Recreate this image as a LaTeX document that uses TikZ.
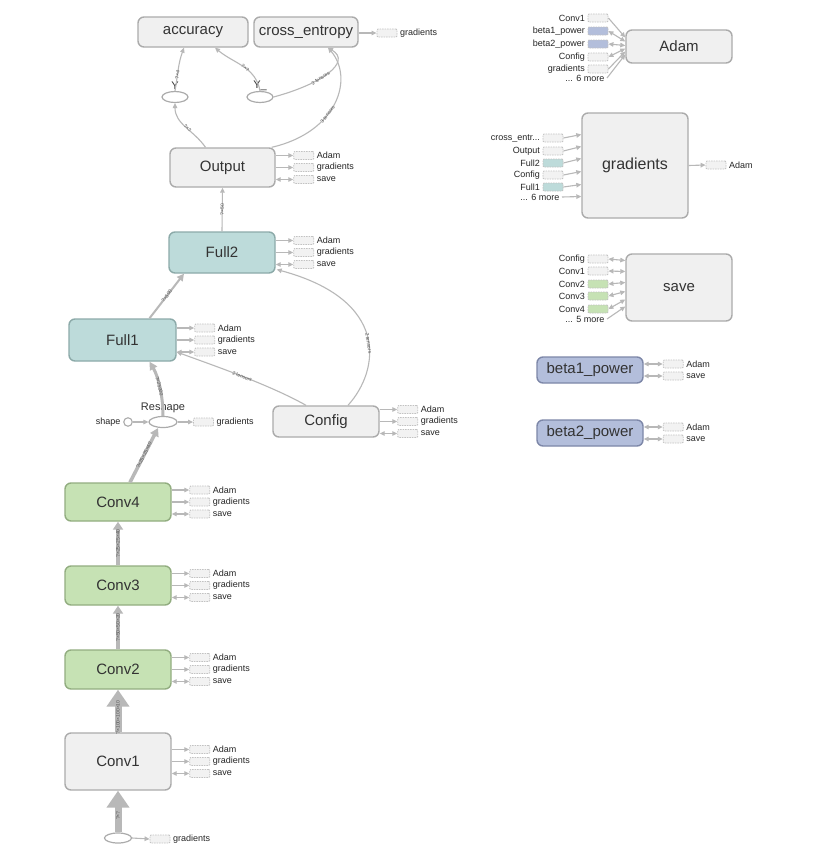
\documentclass[tikz,border=0pt]{standalone}
\usepackage{fontspec}
\setmainfont{Liberation Sans}
\usetikzlibrary{arrows.meta,shapes.geometric}

\definecolor{nodefill}{HTML}{F0F0F0}
\definecolor{nodeline}{HTML}{ABABAB}
\definecolor{tealfill}{HTML}{BDDBDA}
\definecolor{tealline}{HTML}{8CAAA9}
\definecolor{greenfill}{HTML}{C6E2B4}
\definecolor{greenline}{HTML}{92AD80}
\definecolor{bluefill}{HTML}{B3BEDB}
\definecolor{blueline}{HTML}{7D87A8}
\definecolor{edgegray}{HTML}{B8B8B8}
\definecolor{stubline}{HTML}{C2C2C2}
\definecolor{stubfill}{HTML}{F2F2F2}
\definecolor{txt}{HTML}{333333}
\definecolor{lbl}{HTML}{555555}

\tikzset{
  opnode/.style={draw=nodeline, fill=nodefill, line width=1.4pt, rounded corners=6pt,
    minimum width=106pt, text=txt, inner sep=0pt, font=\fontsize{15}{15}\selectfont},
  tealnode/.style={opnode, draw=tealline, fill=tealfill},
  greennode/.style={opnode, draw=greenline, fill=greenfill},
  bluenode/.style={opnode, draw=blueline, fill=bluefill},
  phold/.style={ellipse, draw=nodeline, fill=white, line width=1.2pt, inner sep=0pt},
  stub/.style={draw=stubline, fill=stubfill, dash pattern=on 1.5pt off 1pt, line width=0.8pt,
    minimum width=20pt, minimum height=8pt, inner sep=0pt, rounded corners=1pt},
  stubtext/.style={anchor=west, inner sep=2.5pt, text=black!85, font=\fontsize{9}{9}\selectfont},
  intext/.style={anchor=east, inner sep=2.5pt, text=black!85, font=\fontsize{9}{9}\selectfont},
  thinedge/.style={draw=edgegray, line width=1.1pt, -{Triangle[length=5pt,width=4.5pt]}},
  bothedge/.style={draw=edgegray, line width=1.1pt,
    {Triangle[length=5pt,width=4.5pt]}-{Triangle[length=5pt,width=4.5pt]}},
  elabel/.style={sloped, inner sep=0.5pt, text=lbl, font=\fontsize{5}{5}\selectfont},
  phlabel/.style={text=txt, inner sep=0pt, font=\fontsize{11}{11}\selectfont},
}

% truncated input name in the gradients block
\newcommand{\crosstrunc}{cross\_entr...}

% Adam / gradients / save stubs on the right side of an op node
\newcommand{\threestubs}[1]{%
  \node[stub] (#1-adam) at ([shift={(28,-12)}]#1.east) {};
  \node[stub] (#1-grad) at ([shift={(28,0)}]#1.east) {};
  \node[stub] (#1-save) at ([shift={(28,12)}]#1.east) {};
  \node[stubtext] at (#1-adam.east) {Adam};
  \node[stubtext] at (#1-grad.east) {gradients};
  \node[stubtext] at (#1-save.east) {save};
  \draw[thinedge] ([shift={(0,-12)}]#1.east) -- (#1-adam.west);
  \draw[thinedge] (#1.east) -- (#1-grad.west);
  \draw[bothedge] ([shift={(0,12)}]#1.east) -- (#1-save.west);
}

\begin{document}
\begin{tikzpicture}[x=1pt,y=-1pt]
\fill[white] (0,0) rectangle (815,865);
\useasboundingbox (0,0) rectangle (815,865);

% ---------- main graph ----------
\node[opnode, minimum width=110pt, minimum height=30pt] (accuracy) at (193,32) {accuracy};
\node[opnode, minimum width=104pt, minimum height=30pt] (cross) at (306,32) {cross\_entropy};
\node[phold, minimum width=26pt, minimum height=11pt] (Yph) at (175,97) {};
\node[phlabel] at (175,86) {Y};
\node[phold, minimum width=26pt, minimum height=11pt] (Yu) at (260,97) {};
\node[phlabel] at (260,86) {Y\_};

\node[opnode, minimum width=105pt, minimum height=39pt] (Output) at (222.5,167.5) {Output};
\node[tealnode, minimum height=41pt] (Full2) at (222,252.5) {Full2};
\node[tealnode, minimum width=107pt, minimum height=42pt] (Full1) at (122.5,340) {Full1};

\node[phold, minimum width=28pt, minimum height=11pt] (Reshape) at (163,422) {};
\node[phlabel] at (163,408) {Reshape};
\node[circle, draw=nodeline, fill=white, line width=1.1pt, minimum size=8.5pt, inner sep=0pt] (shape) at (128,422) {};
\node[intext] at (shape.west) {shape};

\node[opnode, minimum height=31pt] (Config) at (326,421.5) {Config};

\node[greennode, minimum height=38pt] (Conv4) at (118,502) {Conv4};
\node[greennode, minimum height=39pt] (Conv3) at (118,585.5) {Conv3};
\node[greennode, minimum height=39pt] (Conv2) at (118,669.5) {Conv2};
\node[opnode, minimum height=57pt] (Conv1) at (118,761.5) {Conv1};
\node[phold, minimum width=27pt, minimum height=10pt] (X) at (118,838) {};

% stubs
\threestubs{Output}
\threestubs{Full2}
\threestubs{Full1}
\threestubs{Config}
\threestubs{Conv4}
\threestubs{Conv3}
\threestubs{Conv2}
\threestubs{Conv1}

\node[stub] (cross-grad) at (387,33) {};
\node[stubtext] at (cross-grad.east) {gradients};
\draw[thinedge] (cross.east |- cross-grad) -- (cross-grad.west);

\node[stub] (Reshape-grad) at (203.5,422) {};
\node[stubtext] at (Reshape-grad.east) {gradients};
\draw[thinedge] (Reshape.east) -- (Reshape-grad.west);
\draw[thinedge] (shape.east) -- (Reshape.west);

\node[stub] (X-grad) at (160,839) {};
\node[stubtext] at (X-grad.east) {gradients};
\draw[thinedge] (X.east) -- (X-grad.west);

% data-flow edges
\draw[thinedge] ([shift={(-17,0)}]Output.north) to[out=125,in=-90]
  node[elabel, pos=0.45] {?×?} (Yph.south);
\draw[thinedge] (Yph.north) to[out=80,in=-110]
  node[elabel, pos=0.35] {?×4} ([shift={(-9,0)}]accuracy.south);
\draw[thinedge] (Yu.north) to[out=100,in=-40]
  node[elabel, pos=0.45] {?×?} ([shift={(22,0)}]accuracy.south);
\draw[thinedge] (Yu.east) .. controls (322,84) and (352,62) ..
  node[elabel, pos=0.4] {2 tensors} ([shift={(22,0)}]cross.south);
\draw[thinedge] ([shift={(-4,0)}]Output.north east) .. controls (338,132) and (354,78) ..
  node[elabel, pos=0.4] {3 tensors} ([shift={(22,0)}]cross.south);

\draw[thinedge] (Full2.north) -- node[elabel] {?×50} (Output.south);
\draw[draw=edgegray, line width=2pt, -{Triangle[length=7pt,width=7pt]}]
  ([shift={(27,0)}]Full1.north) -- node[elabel] {?×500} ([shift={(-38,0)}]Full2.south);
\draw[draw=edgegray, line width=3pt, -{Triangle[length=8pt,width=8pt]}]
  (Reshape.north) .. controls (163,395) and (158,376) ..
  node[elabel] {?×25000} ([shift={(27,0)}]Full1.south);
\draw[draw=edgegray, line width=3.5pt, -{Triangle[length=8pt,width=9pt]}]
  ([shift={(12,0)}]Conv4.north) -- node[elabel] {?×25×25×40} ([shift={(-5,0)}]Reshape.south);
\draw[draw=edgegray, line width=4pt, -{Triangle[length=8pt,width=10pt]}]
  (Conv3.north) -- node[elabel] {?×25×25×40} (Conv4.south);
\draw[draw=edgegray, line width=4pt, -{Triangle[length=8pt,width=10pt]}]
  (Conv2.north) -- node[elabel] {?×50×50×20} (Conv3.south);
\draw[draw=edgegray, line width=7pt, -{Triangle[length=17pt,width=22pt]}]
  (Conv1.north) -- node[elabel, pos=0.35] {?×100×100×10} (Conv2.south);
\draw[draw=edgegray, line width=7pt, -{Triangle[length=17pt,width=22pt]}]
  (X.north) -- node[elabel, pos=0.4] {?×?} (Conv1.south);

\draw[thinedge] ([shift={(-20,0)}]Config.north) .. controls (270,385) and (215,366) ..
  node[elabel] {2 tensors} ([shift={(0,12)}]Full1.east);
\draw[thinedge] ([shift={(22,0)}]Config.north) .. controls (380,370) and (390,300) ..
  node[elabel, pos=0.45] {2 tensors} ([shift={(1,17)}]Full2.east);

% ---------- auxiliary nodes ----------
\node[opnode, minimum height=33pt] (Adam) at (679,46.5) {Adam};
\foreach \i/\lab/\yy/\ty/\fl/\st in {
    1/Conv1/18/-9/stubfill/thinedge,
    2/beta1\_power/31/-5/bluefill/bothedge,
    3/beta2\_power/44/-1/bluefill/bothedge,
    4/Config/57/2/stubfill/bothedge,
    5/gradients/69/5/stubfill/thinedge}{
  \node[stub, fill=\fl] (adin\i) at (598,\yy) {};
  \node[intext] at (adin\i.west) {\lab};
  \draw[\st] (adin\i.east) -- ([shift={(0,\ty)}]Adam.west);
}
\node[intext] (admore) at (607,78) {... 6 more};
\draw[thinedge] (admore.east) -- ([shift={(0,8)}]Adam.west);

\node[opnode, minimum height=105pt, font=\fontsize{16}{16}\selectfont] (grads) at (635,165.5) {gradients};
\foreach \i/\lab/\yy/\ty/\fl in {
    1/\crosstrunc/138/-31/stubfill,
    2/Output/151/-19/stubfill,
    3/Full2/163/-7/tealfill,
    4/Config/175/6/stubfill,
    5/Full1/187/19/tealfill}{
  \node[stub, fill=\fl] (grin\i) at (553,\yy) {};
  \node[intext] at (grin\i.west) {\lab};
  \draw[thinedge] (grin\i.east) -- ([shift={(0,\ty)}]grads.west);
}
\node[intext] (grmore) at (562,197) {... 6 more};
\draw[thinedge] (grmore.east) -- ([shift={(0,31)}]grads.west);
\node[stub] (grads-adam) at (716,165) {};
\node[stubtext] at (grads-adam.east) {Adam};
\draw[thinedge] (grads.east) -- (grads-adam.west);

\node[opnode, minimum height=67pt] (save) at (679,287.5) {save};
\foreach \i/\lab/\yy/\ty/\fl in {
    1/Config/259/-27/stubfill,
    2/Conv1/271/-16/stubfill,
    3/Conv2/284/-5/greenfill,
    4/Conv3/296/4/greenfill,
    5/Conv4/309/12/greenfill}{
  \node[stub, fill=\fl] (svin\i) at (598,\yy) {};
  \node[intext] at (svin\i.west) {\lab};
  \draw[bothedge] (svin\i.east) -- ([shift={(0,\ty)}]save.west);
}
\node[intext] (svmore) at (607,319) {... 5 more};
\draw[thinedge] (svmore.east) -- ([shift={(0,19)}]save.west);

\node[bluenode, minimum height=26pt] (b1) at (590,370) {beta1\_power};
\node[bluenode, minimum height=26pt] (b2) at (590,433) {beta2\_power};
\foreach \b in {b1,b2}{
  \node[stub] (\b-adam) at ([shift={(29.5,-6)}]\b.east) {};
  \node[stub] (\b-save) at ([shift={(29.5,6)}]\b.east) {};
  \node[stubtext] at (\b-adam.east) {Adam};
  \node[stubtext] at (\b-save.east) {save};
  \draw[bothedge] ([shift={(0,-6)}]\b.east) -- (\b-adam.west);
  \draw[bothedge] ([shift={(0,6)}]\b.east) -- (\b-save.west);
}
\end{tikzpicture}
\end{document}
